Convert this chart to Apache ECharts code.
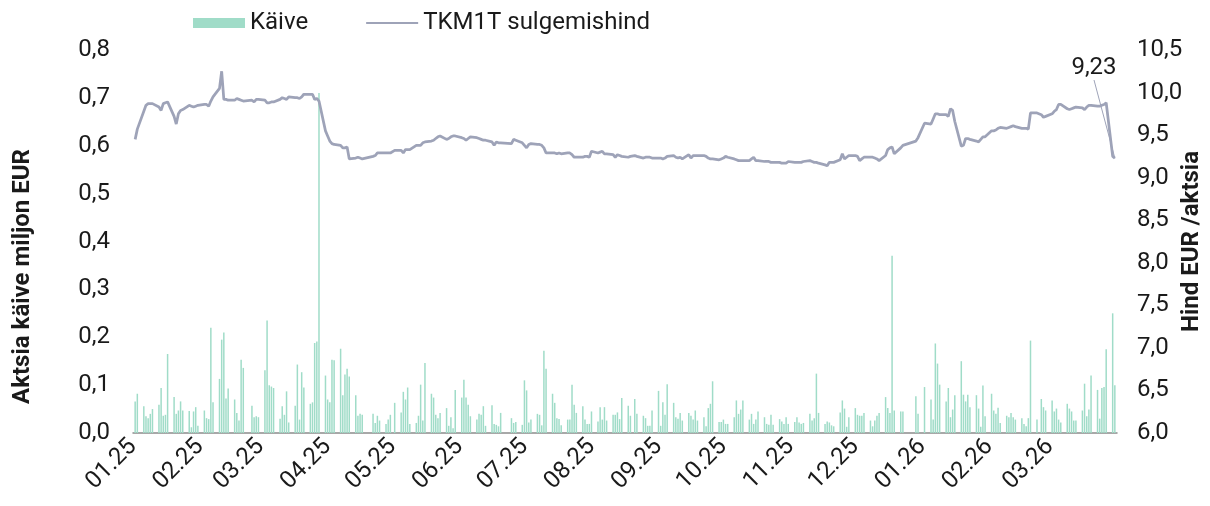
<!DOCTYPE html>
<html>
<head>
<meta charset="utf-8">
<script src="https://cdn.jsdelivr.net/npm/echarts@6/dist/echarts.min.js"></script>
<style>
  html, body { margin: 0; padding: 0; background: #fff; }
  #chart { width: 1210px; height: 506px; }
</style>
</head>
<body>
<div id="chart"></div>
<script>
// months shown on the chart, one row of values per month
const months = ['2025-01', '2025-02', '2025-03', '2025-04', '2025-05', '2025-06', '2025-07',
  '2025-08', '2025-09', '2025-10', '2025-11', '2025-12', '2026-01', '2026-02', '2026-03'];

// exchange closed on these weekdays
const holidays = ['2025-01-01', '2025-02-24', '2025-04-18', '2025-04-21', '2025-05-01', '2025-06-23',
  '2025-06-24', '2025-08-20', '2025-12-24', '2025-12-25', '2025-12-26', '2025-12-31', '2026-01-01', '2026-02-24'];

// TKM1T closing price, EUR
const closeByMonth = [
  [9.45, 9.57, 9.78, 9.85, 9.87, 9.87, 9.87, 9.83, 9.79, 9.87, 9.88, 9.89, 9.72, 9.63, 9.75, 9.79, 9.80, 9.85, 9.84, 9.83, 9.84, 9.85],
  [9.86, 9.86, 9.84, 9.90, 9.95, 10.05, 10.25, 9.92, 9.92, 9.91, 9.91, 9.93, 9.92, 9.91, 9.90, 9.91, 9.89, 9.92, 9.92],
  [9.91, 9.88, 9.88, 9.89, 9.89, 9.92, 9.94, 9.93, 9.92, 9.95, 9.94, 9.94, 9.93, 9.95, 9.98, 9.98, 9.98, 9.92, 9.93, 9.90, 9.55],
  [9.49, 9.43, 9.40, 9.39, 9.38, 9.35, 9.35, 9.36, 9.22, 9.23, 9.24, 9.23, 9.22, 9.25, 9.26, 9.29, 9.29, 9.29, 9.29, 9.29],
  [9.32, 9.32, 9.29, 9.33, 9.33, 9.33, 9.38, 9.38, 9.38, 9.41, 9.42, 9.43, 9.44, 9.46, 9.48, 9.49, 9.45, 9.46, 9.48, 9.49, 9.49],
  [9.47, 9.46, 9.44, 9.46, 9.48, 9.47, 9.46, 9.45, 9.44, 9.44, 9.42, 9.38, 9.42, 9.41, 9.41, 9.40, 9.45, 9.44, 9.41],
  [9.38, 9.35, 9.39, 9.40, 9.39, 9.39, 9.38, 9.35, 9.29, 9.29, 9.29, 9.28, 9.29, 9.28, 9.29, 9.29, 9.27, 9.24, 9.24, 9.24, 9.25, 9.25, 9.24],
  [9.31, 9.29, 9.30, 9.31, 9.28, 9.28, 9.27, 9.24, 9.27, 9.26, 9.25, 9.24, 9.25, 9.26, 9.25, 9.23, 9.24, 9.24, 9.24, 9.23],
  [9.23, 9.23, 9.22, 9.23, 9.25, 9.26, 9.24, 9.23, 9.24, 9.22, 9.27, 9.23, 9.26, 9.26, 9.26, 9.26, 9.25, 9.23, 9.22, 9.22, 9.21, 9.22],
  [9.23, 9.25, 9.24, 9.22, 9.21, 9.20, 9.20, 9.20, 9.20, 9.22, 9.24, 9.20, 9.20, 9.19, 9.19, 9.19, 9.18, 9.18, 9.18, 9.17, 9.17, 9.17, 9.19],
  [9.18, 9.18, 9.18, 9.18, 9.19, 9.20, 9.19, 9.18, 9.18, 9.17, 9.15, 9.14, 9.18, 9.18, 9.18, 9.21, 9.28, 9.22, 9.24, 9.26],
  [9.26, 9.25, 9.20, 9.22, 9.24, 9.24, 9.24, 9.23, 9.22, 9.20, 9.26, 9.33, 9.35, 9.36, 9.28, 9.35, 9.38, 9.43, 9.47],
  [9.64, 9.63, 9.69, 9.75, 9.75, 9.74, 9.74, 9.72, 9.81, 9.79, 9.66, 9.37, 9.38, 9.46, 9.46, 9.45, 9.43, 9.42, 9.45, 9.48, 9.48],
  [9.55, 9.55, 9.56, 9.58, 9.59, 9.58, 9.59, 9.60, 9.61, 9.60, 9.58, 9.58, 9.58, 9.57, 9.76, 9.76, 9.74, 9.71, 9.72],
  [9.75, 9.78, 9.80, 9.86, 9.86, 9.81, 9.80, 9.81, 9.82, 9.83, 9.82, 9.80, 9.83, 9.85, 9.85, 9.84, 9.84, 9.85, 9.86, 9.88, 9.25, 9.23]
];

// daily turnover, million EUR
const turnoverByMonth = [
  [0.066, 0.082, 0.056, 0.035, 0.031, 0.040, 0.050, 0.059, 0.094, 0.036, 0.038, 0.165, 0.075, 0.040, 0.047, 0.066, 0.047, 0.046, 0.012, 0.045, 0.054, 0.015],
  [0.047, 0.031, 0.029, 0.220, 0.064, 0.113, 0.195, 0.210, 0.072, 0.093, 0.070, 0.042, 0.026, 0.153, 0.136, 0.057, 0.033, 0.035, 0.033],
  [0.131, 0.235, 0.100, 0.097, 0.094, 0.030, 0.056, 0.038, 0.087, 0.022, 0.057, 0.143, 0.028, 0.127, 0.095, 0.061, 0.064, 0.188, 0.191, 0.710, 0.120],
  [0.070, 0.064, 0.153, 0.152, 0.176, 0.079, 0.122, 0.134, 0.118, 0.079, 0.036, 0.040, 0.038, 0.040, 0.021, 0.036, 0.026, 0.019, 0.028, 0.038],
  [0.063, 0.043, 0.086, 0.070, 0.095, 0.019, 0.021, 0.036, 0.101, 0.026, 0.146, 0.082, 0.074, 0.038, 0.031, 0.042, 0.052, 0.015, 0.033, 0.010, 0.090],
  [0.074, 0.111, 0.074, 0.059, 0.035, 0.028, 0.040, 0.038, 0.056, 0.015, 0.058, 0.019, 0.017, 0.014, 0.042, 0.031, 0.021, 0.023, 0.017],
  [0.110, 0.089, 0.022, 0.028, 0.040, 0.038, 0.016, 0.172, 0.134, 0.082, 0.063, 0.031, 0.029, 0.016, 0.028, 0.028, 0.101, 0.059, 0.042, 0.056, 0.028, 0.019, 0.019],
  [0.045, 0.024, 0.054, 0.028, 0.054, 0.026, 0.038, 0.038, 0.043, 0.029, 0.073, 0.057, 0.036, 0.071, 0.040, 0.036, 0.031, 0.015, 0.015, 0.047],
  [0.088, 0.015, 0.064, 0.038, 0.102, 0.063, 0.033, 0.030, 0.042, 0.026, 0.042, 0.036, 0.028, 0.047, 0.026, 0.033, 0.014, 0.052, 0.061, 0.108, 0.023, 0.023],
  [0.028, 0.019, 0.019, 0.033, 0.068, 0.040, 0.049, 0.068, 0.028, 0.040, 0.019, 0.028, 0.045, 0.033, 0.019, 0.017, 0.038, 0.017, 0.029, 0.024, 0.019, 0.033, 0.019],
  [0.023, 0.033, 0.022, 0.019, 0.021, 0.040, 0.026, 0.031, 0.124, 0.042, 0.019, 0.024, 0.022, 0.016, 0.014, 0.043, 0.068, 0.051, 0.013, 0.033],
  [0.052, 0.038, 0.036, 0.036, 0.042, 0.026, 0.014, 0.026, 0.036, 0.042, 0.075, 0.052, 0.042, 0.370, 0.047, 0.045, 0.045, 0.077, 0.040],
  [0.096, 0.070, 0.028, 0.187, 0.145, 0.101, 0.066, 0.094, 0.033, 0.049, 0.079, 0.150, 0.080, 0.066, 0.080, 0.054, 0.079, 0.051, 0.013, 0.099, 0.035],
  [0.082, 0.047, 0.040, 0.053, 0.021, 0.036, 0.033, 0.042, 0.033, 0.028, 0.031, 0.019, 0.014, 0.031, 0.193, 0.028, 0.071, 0.054, 0.047],
  [0.068, 0.045, 0.051, 0.028, 0.022, 0.061, 0.051, 0.045, 0.026, 0.026, 0.047, 0.103, 0.035, 0.049, 0.120, 0.090, 0.030, 0.094, 0.096, 0.175, 0.250, 0.100]
];

const comma = (v, d) => v.toFixed(d).replace('.', ',');

// weekdays of a month the exchange was open
function tradingDays(ym) {
  const [y, m] = ym.split('-').map(Number);
  const days = [];
  for (let d = 1; d <= 31; d++) {
    const dt = new Date(Date.UTC(y, m - 1, d));
    if (dt.getUTCMonth() !== m - 1) break;
    const wd = dt.getUTCDay();
    if (wd === 0 || wd === 6) continue;
    if (holidays.includes(dt.toISOString().slice(0, 10))) continue;
    days.push(dt.getTime());
  }
  return days;
}

const closeData = [];
const turnoverData = [];
months.forEach((ym, i) => {
  const days = tradingDays(ym);
  if (days.length !== closeByMonth[i].length || days.length !== turnoverByMonth[i].length) {
    console.warn('length mismatch', ym, days.length, closeByMonth[i].length, turnoverByMonth[i].length);
  }
  days.forEach((t, j) => {
    if (j < closeByMonth[i].length) closeData.push([t, closeByMonth[i][j]]);
    if (j < turnoverByMonth[i].length) turnoverData.push([t, turnoverByMonth[i][j]]);
  });
});

// label the last close (needs a tiny symbol so the label is drawn)
const last = closeData.length - 1;
closeData[last] = {
  value: closeData[last],
  symbol: 'circle',
  symbolSize: 1,
  label: {
    show: true,
    formatter: p => comma(p.value[1], 2),
    fontSize: 24,
    color: '#1a1a1a'
  }
};

const monthTicks = months.map(ym => {
  const [y, m] = ym.split('-').map(Number);
  return Date.UTC(y, m - 1, 1);
});

const chart = echarts.init(document.getElementById('chart'));
chart.setOption({
  animation: false,
  textStyle: { fontFamily: 'Roboto' },
  legend: {
    left: 188,
    top: 6,
    itemWidth: 52,
    itemHeight: 10,
    itemGap: 57,
    textStyle: { fontSize: 24, color: '#1a1a1a', fontFamily: 'Roboto' },
    data: [
      { name: 'Käive', icon: 'rect' },
      { name: 'TKM1T sulgemishind', itemStyle: { opacity: 0 } }
    ]
  },
  grid: {
    left: 133,
    right: 93,
    top: 50,
    bottom: 73,
    outerBoundsMode: 'none'
  },
  xAxis: {
    type: 'value',
    min: Date.UTC(2025, 0, 1),
    max: Date.UTC(2026, 3, 1),
    axisLine: { lineStyle: { color: '#8c8c8c', width: 1.5 } },
    axisTick: { show: false },
    splitLine: { show: false },
    axisLabel: {
      customValues: monthTicks,
      rotate: 45,
      margin: 10,
      fontSize: 24,
      color: '#1a1a1a',
      formatter: v => {
        const d = new Date(v);
        return String(d.getUTCMonth() + 1).padStart(2, '0') + '.' + String(d.getUTCFullYear()).slice(2);
      }
    }
  },
  yAxis: [
    {
      type: 'value',
      min: 0,
      max: 0.8,
      interval: 0.1,
      name: 'Aktsia käive miljon EUR',
      nameLocation: 'middle',
      nameRotate: 90,
      nameGap: 98,
      nameMoveOverlap: false,
      nameTextStyle: { fontSize: 24, fontWeight: 'bold', color: '#1a1a1a', padding: [0, 70, 0, 0] },
      axisLine: { show: false },
      axisTick: { show: false },
      splitLine: { show: false },
      axisLabel: { fontSize: 24, color: '#1a1a1a', margin: 23, formatter: v => comma(v, 1) }
    },
    {
      type: 'value',
      min: 6,
      max: 10.5,
      interval: 0.5,
      name: 'Hind EUR /aktsia',
      nameLocation: 'middle',
      nameRotate: 90,
      nameGap: 63,
      nameMoveOverlap: false,
      nameTextStyle: { fontSize: 24, fontWeight: 'bold', color: '#1a1a1a' },
      axisLine: { show: false },
      axisTick: { show: false },
      splitLine: { show: false },
      axisLabel: { fontSize: 24, color: '#1a1a1a', margin: 20, formatter: v => comma(v, 1) }
    }
  ],
  series: [
    {
      name: 'Käive',
      type: 'bar',
      yAxisIndex: 0,
      barWidth: 1.5,
      itemStyle: { color: '#a0dcc8' },
      data: turnoverData
    },
    {
      name: 'TKM1T sulgemishind',
      type: 'line',
      yAxisIndex: 1,
      symbol: 'none',
      z: 3,
      lineStyle: { color: '#9ea3b8', width: 2.75 },
      itemStyle: { color: '#9ea3b8' },
      labelLayout: p => (p.dataIndex === last ? { x: 1094, y: 68, align: 'center', verticalAlign: 'middle' } : null),
      labelLine: { show: true, lineStyle: { color: '#9ea3b8', width: 1 } },
      data: closeData
    }
  ]
});
</script>
</body>
</html>
